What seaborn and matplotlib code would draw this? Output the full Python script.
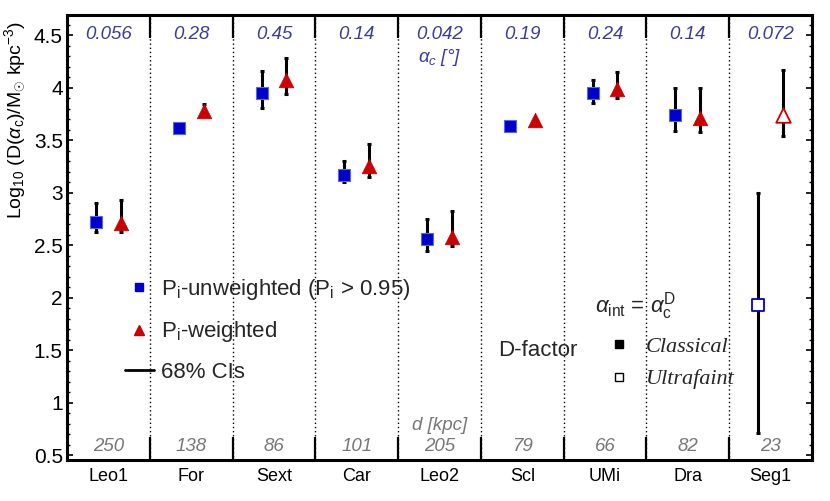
import numpy as np
import pandas as pd
import matplotlib
matplotlib.use("Agg")
import matplotlib.pyplot as plt
from matplotlib.lines import Line2D
from matplotlib.ticker import FixedLocator, MultipleLocator, FixedFormatter
import seaborn as sns

# ---------------- data ----------------
galaxies = ["Leo1", "For", "Sext", "Car", "Leo2", "Scl", "UMi", "Dra", "Seg1"]
alpha_c = ["0.056", "0.28", "0.45", "0.14", "0.042", "0.19", "0.24", "0.14", "0.072"]
dist_kpc = ["250", "138", "86", "101", "205", "79", "66", "82", "23"]
gal_type = ["Classical"] * 8 + ["Ultrafaint"]

unw = [2.72, 3.62, 3.95, 3.17, 2.56, 3.64, 3.95, 3.74, 1.93]
unw_lo = [2.63, np.nan, 3.81, 3.10, 2.45, np.nan, 3.86, 3.59, 0.71]
unw_hi = [2.90, np.nan, 4.165, 3.30, 2.75, np.nan, 4.08, 4.00, 3.00]

wtd = [2.71, 3.78, 4.08, 3.26, 2.58, 3.69, 3.99, 3.71, 3.74]
wtd_lo = [2.63, 3.76, 3.94, 3.15, 2.49, np.nan, 3.90, 3.58, 3.54]
wtd_hi = [2.93, 3.85, 4.29, 3.47, 2.83, np.nan, 4.15, 4.00, 4.17]

# ---------------- style ----------------
sns.set_theme(style="ticks")
plt.rcParams["font.family"] = ["Liberation Sans", "DejaVu Sans"]
plt.rcParams["mathtext.fontset"] = "custom"
plt.rcParams["mathtext.rm"] = "Liberation Sans"
plt.rcParams["mathtext.it"] = "Liberation Sans:italic"
plt.rcParams["mathtext.bf"] = "Liberation Sans:bold"

BLUE = "#0000cc"
RED = "#cc0000"
TXT_BLUE = "#3c3c9c"
GRAY = "#777777"

fig = plt.figure(figsize=(8.3, 5.01), dpi=100)
ax = fig.add_axes([67 / 830, 41 / 501, 745 / 830, 445 / 501])

idx = np.arange(1, len(galaxies) + 1)
off = 0.15
df = pd.DataFrame({
    "galaxy": galaxies, "type": gal_type,
    "x_u": idx - off, "x_w": idx + off,
    "unw": unw, "unw_lo": unw_lo, "unw_hi": unw_hi,
    "wtd": wtd, "wtd_lo": wtd_lo, "wtd_hi": wtd_hi,
})

# error bars
for xc, yc, lo, hi in [("x_u", "unw", "unw_lo", "unw_hi"), ("x_w", "wtd", "wtd_lo", "wtd_hi")]:
    sub = df.dropna(subset=[lo, hi])
    ax.errorbar(sub[xc], sub[yc],
                yerr=[sub[yc] - sub[lo], sub[hi] - sub[yc]],
                fmt="none", ecolor="black", elinewidth=2.2, capsize=1.6,
                capthick=2.2, zorder=2)

cl = df[df["type"] == "Classical"]
uf = df[df["type"] == "Ultrafaint"]
sns.scatterplot(data=cl, x="x_u", y="unw", marker="s", color=BLUE, s=85,
                edgecolor="#5a6ad8", linewidth=0.8, ax=ax, zorder=3)
sns.scatterplot(data=cl, x="x_w", y="wtd", marker="^", color=RED, s=110,
                edgecolor=RED, linewidth=0.5, ax=ax, zorder=3)
sns.scatterplot(data=uf, x="x_u", y="unw", marker="s", facecolor="white",
                edgecolor=BLUE, linewidth=1.3, s=85, ax=ax, zorder=3)
sns.scatterplot(data=uf, x="x_w", y="wtd", marker="^", facecolor="white",
                edgecolor=RED, linewidth=1.3, s=110, ax=ax, zorder=3)

# separators
seps = idx[:-1] + 0.5
ax.vlines(seps, 0.45, 4.7, colors="black", linestyles=(0, (1, 2)), linewidth=1.0, zorder=1)

ax.set_xlim(0.5, 9.5)
ax.set_ylim(0.455, 4.695)

# x ticks: major at separators (long, inward), labels at minor
ax.xaxis.set_major_locator(FixedLocator(seps))
ax.xaxis.set_major_formatter(FixedFormatter([""] * len(seps)))
ax.xaxis.set_minor_locator(FixedLocator(idx))
ax.xaxis.set_minor_formatter(FixedFormatter(galaxies))
ax.tick_params(axis="x", which="major", direction="in", length=16.5, width=1.6,
               top=True, bottom=True, colors="black")
ax.tick_params(axis="x", which="minor", length=0, labelsize=13, pad=6, labelcolor="black")

ax.yaxis.set_major_locator(MultipleLocator(0.5))
ax.yaxis.set_minor_locator(MultipleLocator(0.1))
ax.yaxis.set_major_formatter(matplotlib.ticker.FuncFormatter(lambda v, p: f"{v:g}"))
ax.tick_params(axis="y", which="major", direction="in", length=4, width=1.2,
               left=True, right=True, labelsize=15, pad=3, colors="black")
ax.tick_params(axis="y", which="minor", direction="in", length=2.2, width=1.0,
               left=True, right=True, colors="black")

for sp in ax.spines.values():
    sp.set_visible(True)
    sp.set_linewidth(2.2)
    sp.set_color("black")

ax.set_xlabel("")
ax.set_ylabel(r"Log$_{10}$ (D($\alpha_{\rm c}$)/M$_{\mathbf{\odot}}$ kpc$^{-3}$)", fontsize=14,
              color="black", labelpad=4)
ax.yaxis.set_label_coords(-0.052, 0.765)

# annotations: alpha_c and distance
for i, (a, d) in enumerate(zip(alpha_c, dist_kpc)):
    ax.text(idx[i], 4.51, a, ha="center", va="center", fontsize=13.5,
            style="italic", color=TXT_BLUE)
    ax.text(idx[i], 0.58, d, ha="center", va="center", fontsize=13.5,
            style="italic", color=GRAY)
ax.text(5, 4.29, r"$\alpha_{c}$ [°]", ha="center", va="center", fontsize=13.5,
        style="italic", color=TXT_BLUE)
ax.text(5, 0.785, "d [kpc]", ha="center", va="center", fontsize=13.5,
        style="italic", color=GRAY)

# legend 1
h1 = [Line2D([], [], marker="s", color=BLUE, ls="none", markersize=6),
      Line2D([], [], marker="^", color=RED, ls="none", markersize=7),
      Line2D([], [], color="black", lw=2)]
l1 = [r"P$_{\rm i}$-unweighted (P$_{\rm i}$ > 0.95)", r"P$_{\rm i}$-weighted", "68% CIs"]
leg1 = ax.legend(h1, l1, loc="upper left", bbox_to_anchor=((125 - 67) / 745, (460 - 277) / 445),
                 frameon=False, fontsize=16, handlelength=1.3, handletextpad=0.3,
                 labelspacing=0.78, borderpad=0, borderaxespad=0)
ax.add_artist(leg1)

# legend 2
ax.text((595 - 67) / 745, (460 - 306) / 445, r"$\alpha_{\rm int}$ = $\alpha_{\rm c}^{\rm D}$",
        transform=ax.transAxes, ha="left", va="center", fontsize=16)
ax.text((498 - 67) / 745, (460 - 350) / 445, "D-factor",
        transform=ax.transAxes, ha="left", va="center", fontsize=16)
h2 = [Line2D([], [], marker="s", color="black", ls="none", markersize=6),
      Line2D([], [], marker="s", markerfacecolor="white", markeredgecolor="black",
             ls="none", markersize=6, markeredgewidth=1)]
leg2 = ax.legend(h2, ["Classical", "Ultrafaint"], loc="upper left",
                 bbox_to_anchor=((610 - 67) / 745, (460 - 336) / 445),
                 frameon=False, handlelength=0.8, handletextpad=0.8,
                 labelspacing=0.55, borderpad=0, borderaxespad=0,
                 prop={"family": "Liberation Serif", "style": "italic", "size": 16})

fig.savefig("out.png", dpi=100)
